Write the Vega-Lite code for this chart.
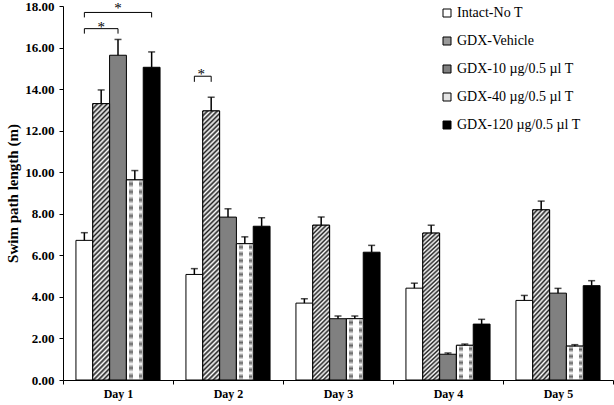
{
  "$schema": "https://vega.github.io/schema/vega-lite/v6.json",
  "width": 550,
  "height": 374,
  "autosize": "none",
  "padding": {"left": 63, "top": 6, "right": 1, "bottom": 25},
  "background": "white",
  "config": {
    "view": {"stroke": null},
    "font": "Liberation Serif",
    "legend": {
      "orient": "none",
      "legendX": 377,
      "legendY": 0,
      "padding": 0,
      "labelFont": "Liberation Serif",
      "labelFontSize": 14,
      "labelColor": "black",
      "labelOffset": 3,
      "rowPadding": 14,
      "symbolType": "square",
      "symbolSize": 64,
      "symbolStrokeColor": "black",
      "symbolStrokeWidth": 1,
      "symbolOpacity": 1
    }
  },
  "datasets": {
    "bars": [
      {"day": "Day 1", "group": "Intact-No T", "value": 6.72, "upper": 7.09},
      {"day": "Day 1", "group": "GDX-Vehicle", "value": 13.30, "upper": 13.96},
      {"day": "Day 1", "group": "GDX-10 µg/0.5 µl T", "value": 15.63, "upper": 16.39},
      {"day": "Day 1", "group": "GDX-40 µg/0.5 µl T", "value": 9.63, "upper": 10.08},
      {"day": "Day 1", "group": "GDX-120 µg/0.5 µl T", "value": 15.05, "upper": 15.79},
      {"day": "Day 2", "group": "Intact-No T", "value": 5.08, "upper": 5.36},
      {"day": "Day 2", "group": "GDX-Vehicle", "value": 12.95, "upper": 13.61},
      {"day": "Day 2", "group": "GDX-10 µg/0.5 µl T", "value": 7.84, "upper": 8.24},
      {"day": "Day 2", "group": "GDX-40 µg/0.5 µl T", "value": 6.56, "upper": 6.89},
      {"day": "Day 2", "group": "GDX-120 µg/0.5 µl T", "value": 7.40, "upper": 7.81},
      {"day": "Day 3", "group": "Intact-No T", "value": 3.70, "upper": 3.91},
      {"day": "Day 3", "group": "GDX-Vehicle", "value": 7.45, "upper": 7.85},
      {"day": "Day 3", "group": "GDX-10 µg/0.5 µl T", "value": 2.95, "upper": 3.08},
      {"day": "Day 3", "group": "GDX-40 µg/0.5 µl T", "value": 2.95, "upper": 3.08},
      {"day": "Day 3", "group": "GDX-120 µg/0.5 µl T", "value": 6.15, "upper": 6.48},
      {"day": "Day 4", "group": "Intact-No T", "value": 4.42, "upper": 4.66},
      {"day": "Day 4", "group": "GDX-Vehicle", "value": 7.07, "upper": 7.45},
      {"day": "Day 4", "group": "GDX-10 µg/0.5 µl T", "value": 1.24, "upper": 1.30},
      {"day": "Day 4", "group": "GDX-40 µg/0.5 µl T", "value": 1.67, "upper": 1.73},
      {"day": "Day 4", "group": "GDX-120 µg/0.5 µl T", "value": 2.69, "upper": 2.92},
      {"day": "Day 5", "group": "Intact-No T", "value": 3.83, "upper": 4.07},
      {"day": "Day 5", "group": "GDX-Vehicle", "value": 8.19, "upper": 8.61},
      {"day": "Day 5", "group": "GDX-10 µg/0.5 µl T", "value": 4.18, "upper": 4.41},
      {"day": "Day 5", "group": "GDX-40 µg/0.5 µl T", "value": 1.63, "upper": 1.70},
      {"day": "Day 5", "group": "GDX-120 µg/0.5 µl T", "value": 4.54, "upper": 4.78}
    ],
    "brackets": [
      {"id": "b1", "ord": 1, "day": "Day 1", "group": "Intact-No T", "value": 16.67},
      {"id": "b1", "ord": 2, "day": "Day 1", "group": "Intact-No T", "value": 16.91},
      {"id": "b1", "ord": 3, "day": "Day 1", "group": "GDX-10 µg/0.5 µl T", "value": 16.91},
      {"id": "b1", "ord": 4, "day": "Day 1", "group": "GDX-10 µg/0.5 µl T", "value": 16.67},
      {"id": "b2", "ord": 1, "day": "Day 1", "group": "Intact-No T", "value": 17.45},
      {"id": "b2", "ord": 2, "day": "Day 1", "group": "Intact-No T", "value": 17.69},
      {"id": "b2", "ord": 3, "day": "Day 1", "group": "GDX-120 µg/0.5 µl T", "value": 17.69},
      {"id": "b2", "ord": 4, "day": "Day 1", "group": "GDX-120 µg/0.5 µl T", "value": 17.45},
      {"id": "b3", "ord": 1, "day": "Day 2", "group": "Intact-No T", "value": 14.35},
      {"id": "b3", "ord": 2, "day": "Day 2", "group": "Intact-No T", "value": 14.62},
      {"id": "b3", "ord": 3, "day": "Day 2", "group": "GDX-Vehicle", "value": 14.62},
      {"id": "b3", "ord": 4, "day": "Day 2", "group": "GDX-Vehicle", "value": 14.35}
    ],
    "stars": [
      {"day": "Day 1", "group": "GDX-Vehicle", "value": 17.01, "label": "*"},
      {"day": "Day 1", "group": "GDX-10 µg/0.5 µl T", "value": 17.88, "label": "*"}
    ],
    "stars2": [
      {"day": "Day 2", "group": "Intact-No T", "value": 14.72, "label": "*"}
    ]
  },
  "encoding": {
    "x": {
      "field": "day", "type": "nominal",
      "scale": {"paddingInner": 0, "paddingOuter": 0},
      "axis": {"title": null, "labelAngle": 0, "tickBand": "extent", "tickSize": 4, "labelPadding": 4, "labelFont": "Liberation Serif", "labelFontSize": 12, "labelFontWeight": "bold", "labelColor": "black", "domainColor": "black", "tickColor": "black", "grid": false}
    },
    "xOffset": {
      "field": "group", "type": "nominal",
      "scale": {"domain": ["Intact-No T", "GDX-Vehicle", "GDX-10 µg/0.5 µl T", "GDX-40 µg/0.5 µl T", "GDX-120 µg/0.5 µl T"], "paddingInner": 0, "paddingOuter": 0.77}
    },
    "y": {
      "field": "value", "type": "quantitative",
      "scale": {"domain": [0, 18], "nice": false},
      "axis": {"title": "Swim path length (m)", "values": [0, 2, 4, 6, 8, 10, 12, 14, 16, 18], "format": ".2f", "grid": false, "tickSize": 4, "labelPadding": 5, "labelFont": "Liberation Serif", "labelFontSize": 13, "labelFontWeight": "bold", "labelColor": "black", "domainColor": "black", "tickColor": "black", "titleFont": "Liberation Serif", "titleFontSize": 15, "titleFontWeight": "bold", "titleColor": "black", "titlePadding": 4}
    }
  },
  "layer": [
    {
      "data": {"name": "bars"},
      "mark": {"type": "bar", "stroke": "black", "strokeWidth": 1},
      "encoding": {
        "color": {
          "field": "group", "type": "nominal",
          "scale": {
            "domain": ["Intact-No T", "GDX-Vehicle", "GDX-10 µg/0.5 µl T", "GDX-40 µg/0.5 µl T", "GDX-120 µg/0.5 µl T"],
            "range": ["#ffffff", "#9a9a9a", "#808080", "#e4e4e4", "#000000"]
          },
          "legend": {"title": null}
        }
      }
    },
    {
      "data": {"name": "bars"},
      "transform": [{"filter": "datum.group == 'GDX-Vehicle' && datum.value > 10"}],
      "mark": {"type": "bar", "stroke": "black", "strokeWidth": 1, "fill": {"gradient": "linear", "x1": 0, "y1": 0, "x2": 0.066, "y2": 1.07, "stops": [
        {"offset": 0, "color": "#222"}, {"offset": 0.0083, "color": "#fff"}, {"offset": 0.0167, "color": "#222"}, {"offset": 0.025, "color": "#fff"}, {"offset": 0.0333, "color": "#222"}, {"offset": 0.0417, "color": "#fff"}, {"offset": 0.05, "color": "#222"}, {"offset": 0.0583, "color": "#fff"}, {"offset": 0.0667, "color": "#222"}, {"offset": 0.075, "color": "#fff"}, {"offset": 0.0833, "color": "#222"}, {"offset": 0.0917, "color": "#fff"},
        {"offset": 0.1, "color": "#222"}, {"offset": 0.1083, "color": "#fff"}, {"offset": 0.1167, "color": "#222"}, {"offset": 0.125, "color": "#fff"}, {"offset": 0.1333, "color": "#222"}, {"offset": 0.1417, "color": "#fff"}, {"offset": 0.15, "color": "#222"}, {"offset": 0.1583, "color": "#fff"}, {"offset": 0.1667, "color": "#222"}, {"offset": 0.175, "color": "#fff"}, {"offset": 0.1833, "color": "#222"}, {"offset": 0.1917, "color": "#fff"},
        {"offset": 0.2, "color": "#222"}, {"offset": 0.2083, "color": "#fff"}, {"offset": 0.2167, "color": "#222"}, {"offset": 0.225, "color": "#fff"}, {"offset": 0.2333, "color": "#222"}, {"offset": 0.2417, "color": "#fff"}, {"offset": 0.25, "color": "#222"}, {"offset": 0.2583, "color": "#fff"}, {"offset": 0.2667, "color": "#222"}, {"offset": 0.275, "color": "#fff"}, {"offset": 0.2833, "color": "#222"}, {"offset": 0.2917, "color": "#fff"},
        {"offset": 0.3, "color": "#222"}, {"offset": 0.3083, "color": "#fff"}, {"offset": 0.3167, "color": "#222"}, {"offset": 0.325, "color": "#fff"}, {"offset": 0.3333, "color": "#222"}, {"offset": 0.3417, "color": "#fff"}, {"offset": 0.35, "color": "#222"}, {"offset": 0.3583, "color": "#fff"}, {"offset": 0.3667, "color": "#222"}, {"offset": 0.375, "color": "#fff"}, {"offset": 0.3833, "color": "#222"}, {"offset": 0.3917, "color": "#fff"},
        {"offset": 0.4, "color": "#222"}, {"offset": 0.4083, "color": "#fff"}, {"offset": 0.4167, "color": "#222"}, {"offset": 0.425, "color": "#fff"}, {"offset": 0.4333, "color": "#222"}, {"offset": 0.4417, "color": "#fff"}, {"offset": 0.45, "color": "#222"}, {"offset": 0.4583, "color": "#fff"}, {"offset": 0.4667, "color": "#222"}, {"offset": 0.475, "color": "#fff"}, {"offset": 0.4833, "color": "#222"}, {"offset": 0.4917, "color": "#fff"},
        {"offset": 0.5, "color": "#222"}, {"offset": 0.5083, "color": "#fff"}, {"offset": 0.5167, "color": "#222"}, {"offset": 0.525, "color": "#fff"}, {"offset": 0.5333, "color": "#222"}, {"offset": 0.5417, "color": "#fff"}, {"offset": 0.55, "color": "#222"}, {"offset": 0.5583, "color": "#fff"}, {"offset": 0.5667, "color": "#222"}, {"offset": 0.575, "color": "#fff"}, {"offset": 0.5833, "color": "#222"}, {"offset": 0.5917, "color": "#fff"},
        {"offset": 0.6, "color": "#222"}, {"offset": 0.6083, "color": "#fff"}, {"offset": 0.6167, "color": "#222"}, {"offset": 0.625, "color": "#fff"}, {"offset": 0.6333, "color": "#222"}, {"offset": 0.6417, "color": "#fff"}, {"offset": 0.65, "color": "#222"}, {"offset": 0.6583, "color": "#fff"}, {"offset": 0.6667, "color": "#222"}, {"offset": 0.675, "color": "#fff"}, {"offset": 0.6833, "color": "#222"}, {"offset": 0.6917, "color": "#fff"},
        {"offset": 0.7, "color": "#222"}, {"offset": 0.7083, "color": "#fff"}, {"offset": 0.7167, "color": "#222"}, {"offset": 0.725, "color": "#fff"}, {"offset": 0.7333, "color": "#222"}, {"offset": 0.7417, "color": "#fff"}, {"offset": 0.75, "color": "#222"}, {"offset": 0.7583, "color": "#fff"}, {"offset": 0.7667, "color": "#222"}, {"offset": 0.775, "color": "#fff"}, {"offset": 0.7833, "color": "#222"}, {"offset": 0.7917, "color": "#fff"},
        {"offset": 0.8, "color": "#222"}, {"offset": 0.8083, "color": "#fff"}, {"offset": 0.8167, "color": "#222"}, {"offset": 0.825, "color": "#fff"}, {"offset": 0.8333, "color": "#222"}, {"offset": 0.8417, "color": "#fff"}, {"offset": 0.85, "color": "#222"}, {"offset": 0.8583, "color": "#fff"}, {"offset": 0.8667, "color": "#222"}, {"offset": 0.875, "color": "#fff"}, {"offset": 0.8833, "color": "#222"}, {"offset": 0.8917, "color": "#fff"},
        {"offset": 0.9, "color": "#222"}, {"offset": 0.9083, "color": "#fff"}, {"offset": 0.9167, "color": "#222"}, {"offset": 0.925, "color": "#fff"}, {"offset": 0.9333, "color": "#222"}, {"offset": 0.9417, "color": "#fff"}, {"offset": 0.95, "color": "#222"}, {"offset": 0.9583, "color": "#fff"}, {"offset": 0.9667, "color": "#222"}, {"offset": 0.975, "color": "#fff"}, {"offset": 0.9833, "color": "#222"}, {"offset": 0.9917, "color": "#fff"},
        {"offset": 1, "color": "#222"}
      ]}}
    },
    {
      "data": {"name": "bars"},
      "transform": [{"filter": "datum.group == 'GDX-Vehicle' && datum.value <= 10"}],
      "mark": {"type": "bar", "stroke": "black", "strokeWidth": 1, "fill": {"gradient": "linear", "x1": 0, "y1": 0, "x2": 0.1223, "y2": 1.14, "stops": [
        {"offset": 0, "color": "#222"}, {"offset": 0.0125, "color": "#fff"}, {"offset": 0.025, "color": "#222"}, {"offset": 0.0375, "color": "#fff"}, {"offset": 0.05, "color": "#222"}, {"offset": 0.0625, "color": "#fff"}, {"offset": 0.075, "color": "#222"}, {"offset": 0.0875, "color": "#fff"},
        {"offset": 0.1, "color": "#222"}, {"offset": 0.1125, "color": "#fff"}, {"offset": 0.125, "color": "#222"}, {"offset": 0.1375, "color": "#fff"}, {"offset": 0.15, "color": "#222"}, {"offset": 0.1625, "color": "#fff"}, {"offset": 0.175, "color": "#222"}, {"offset": 0.1875, "color": "#fff"},
        {"offset": 0.2, "color": "#222"}, {"offset": 0.2125, "color": "#fff"}, {"offset": 0.225, "color": "#222"}, {"offset": 0.2375, "color": "#fff"}, {"offset": 0.25, "color": "#222"}, {"offset": 0.2625, "color": "#fff"}, {"offset": 0.275, "color": "#222"}, {"offset": 0.2875, "color": "#fff"},
        {"offset": 0.3, "color": "#222"}, {"offset": 0.3125, "color": "#fff"}, {"offset": 0.325, "color": "#222"}, {"offset": 0.3375, "color": "#fff"}, {"offset": 0.35, "color": "#222"}, {"offset": 0.3625, "color": "#fff"}, {"offset": 0.375, "color": "#222"}, {"offset": 0.3875, "color": "#fff"},
        {"offset": 0.4, "color": "#222"}, {"offset": 0.4125, "color": "#fff"}, {"offset": 0.425, "color": "#222"}, {"offset": 0.4375, "color": "#fff"}, {"offset": 0.45, "color": "#222"}, {"offset": 0.4625, "color": "#fff"}, {"offset": 0.475, "color": "#222"}, {"offset": 0.4875, "color": "#fff"},
        {"offset": 0.5, "color": "#222"}, {"offset": 0.5125, "color": "#fff"}, {"offset": 0.525, "color": "#222"}, {"offset": 0.5375, "color": "#fff"}, {"offset": 0.55, "color": "#222"}, {"offset": 0.5625, "color": "#fff"}, {"offset": 0.575, "color": "#222"}, {"offset": 0.5875, "color": "#fff"},
        {"offset": 0.6, "color": "#222"}, {"offset": 0.6125, "color": "#fff"}, {"offset": 0.625, "color": "#222"}, {"offset": 0.6375, "color": "#fff"}, {"offset": 0.65, "color": "#222"}, {"offset": 0.6625, "color": "#fff"}, {"offset": 0.675, "color": "#222"}, {"offset": 0.6875, "color": "#fff"},
        {"offset": 0.7, "color": "#222"}, {"offset": 0.7125, "color": "#fff"}, {"offset": 0.725, "color": "#222"}, {"offset": 0.7375, "color": "#fff"}, {"offset": 0.75, "color": "#222"}, {"offset": 0.7625, "color": "#fff"}, {"offset": 0.775, "color": "#222"}, {"offset": 0.7875, "color": "#fff"},
        {"offset": 0.8, "color": "#222"}, {"offset": 0.8125, "color": "#fff"}, {"offset": 0.825, "color": "#222"}, {"offset": 0.8375, "color": "#fff"}, {"offset": 0.85, "color": "#222"}, {"offset": 0.8625, "color": "#fff"}, {"offset": 0.875, "color": "#222"}, {"offset": 0.8875, "color": "#fff"},
        {"offset": 0.9, "color": "#222"}, {"offset": 0.9125, "color": "#fff"}, {"offset": 0.925, "color": "#222"}, {"offset": 0.9375, "color": "#fff"}, {"offset": 0.95, "color": "#222"}, {"offset": 0.9625, "color": "#fff"}, {"offset": 0.975, "color": "#222"}, {"offset": 0.9875, "color": "#fff"},
        {"offset": 1, "color": "#222"}
      ]}}
    },
    {
      "data": {"name": "bars"},
      "transform": [{"filter": "datum.group == 'GDX-40 µg/0.5 µl T'"}],
      "mark": {"type": "bar", "strokeWidth": 0, "fill": {"gradient": "linear", "x1": 0, "y1": 0, "x2": 1, "y2": 0, "stops": [
        {"offset": 0, "color": "#fff"}, {"offset": 0.16, "color": "#fff"}, {"offset": 0.18, "color": "#666"}, {"offset": 0.4, "color": "#666"}, {"offset": 0.42, "color": "#fff"}, {"offset": 0.74, "color": "#fff"}, {"offset": 0.76, "color": "#666"}, {"offset": 0.9, "color": "#666"}, {"offset": 0.92, "color": "#fff"}, {"offset": 1, "color": "#fff"}
      ]}}
    },
    {
      "data": {"name": "bars"},
      "transform": [{"filter": "datum.group == 'GDX-40 µg/0.5 µl T' && datum.value > 8"}],
      "mark": {"type": "bar", "stroke": "black", "strokeWidth": 1, "fill": {"gradient": "linear", "x1": 0, "y1": 0, "x2": 0, "y2": 1, "stops": [
        {"offset": 0, "color": "#ffffff"}, {"offset": 0.02, "color": "rgba(255,255,255,0)"}, {"offset": 0.04, "color": "#ffffff"}, {"offset": 0.06, "color": "rgba(255,255,255,0)"}, {"offset": 0.08, "color": "#ffffff"}, {"offset": 0.1, "color": "rgba(255,255,255,0)"}, {"offset": 0.12, "color": "#ffffff"}, {"offset": 0.14, "color": "rgba(255,255,255,0)"}, {"offset": 0.16, "color": "#ffffff"}, {"offset": 0.18, "color": "rgba(255,255,255,0)"},
        {"offset": 0.2, "color": "#ffffff"}, {"offset": 0.22, "color": "rgba(255,255,255,0)"}, {"offset": 0.24, "color": "#ffffff"}, {"offset": 0.26, "color": "rgba(255,255,255,0)"}, {"offset": 0.28, "color": "#ffffff"}, {"offset": 0.3, "color": "rgba(255,255,255,0)"}, {"offset": 0.32, "color": "#ffffff"}, {"offset": 0.34, "color": "rgba(255,255,255,0)"}, {"offset": 0.36, "color": "#ffffff"}, {"offset": 0.38, "color": "rgba(255,255,255,0)"},
        {"offset": 0.4, "color": "#ffffff"}, {"offset": 0.42, "color": "rgba(255,255,255,0)"}, {"offset": 0.44, "color": "#ffffff"}, {"offset": 0.46, "color": "rgba(255,255,255,0)"}, {"offset": 0.48, "color": "#ffffff"}, {"offset": 0.5, "color": "rgba(255,255,255,0)"}, {"offset": 0.52, "color": "#ffffff"}, {"offset": 0.54, "color": "rgba(255,255,255,0)"}, {"offset": 0.56, "color": "#ffffff"}, {"offset": 0.58, "color": "rgba(255,255,255,0)"},
        {"offset": 0.6, "color": "#ffffff"}, {"offset": 0.62, "color": "rgba(255,255,255,0)"}, {"offset": 0.64, "color": "#ffffff"}, {"offset": 0.66, "color": "rgba(255,255,255,0)"}, {"offset": 0.68, "color": "#ffffff"}, {"offset": 0.7, "color": "rgba(255,255,255,0)"}, {"offset": 0.72, "color": "#ffffff"}, {"offset": 0.74, "color": "rgba(255,255,255,0)"}, {"offset": 0.76, "color": "#ffffff"}, {"offset": 0.78, "color": "rgba(255,255,255,0)"},
        {"offset": 0.8, "color": "#ffffff"}, {"offset": 0.82, "color": "rgba(255,255,255,0)"}, {"offset": 0.84, "color": "#ffffff"}, {"offset": 0.86, "color": "rgba(255,255,255,0)"}, {"offset": 0.88, "color": "#ffffff"}, {"offset": 0.9, "color": "rgba(255,255,255,0)"}, {"offset": 0.92, "color": "#ffffff"}, {"offset": 0.94, "color": "rgba(255,255,255,0)"}, {"offset": 0.96, "color": "#ffffff"}, {"offset": 0.98, "color": "rgba(255,255,255,0)"},
        {"offset": 1, "color": "#ffffff"}
      ]}}
    },
    {
      "data": {"name": "bars"},
      "transform": [{"filter": "datum.group == 'GDX-40 µg/0.5 µl T' && datum.value > 5 && datum.value <= 8"}],
      "mark": {"type": "bar", "stroke": "black", "strokeWidth": 1, "fill": {"gradient": "linear", "x1": 0, "y1": 0, "x2": 0, "y2": 1, "stops": [
        {"offset": 0, "color": "#ffffff"}, {"offset": 0.025, "color": "rgba(255,255,255,0)"}, {"offset": 0.05, "color": "#ffffff"}, {"offset": 0.075, "color": "rgba(255,255,255,0)"}, {"offset": 0.1, "color": "#ffffff"}, {"offset": 0.125, "color": "rgba(255,255,255,0)"}, {"offset": 0.15, "color": "#ffffff"}, {"offset": 0.175, "color": "rgba(255,255,255,0)"},
        {"offset": 0.2, "color": "#ffffff"}, {"offset": 0.225, "color": "rgba(255,255,255,0)"}, {"offset": 0.25, "color": "#ffffff"}, {"offset": 0.275, "color": "rgba(255,255,255,0)"}, {"offset": 0.3, "color": "#ffffff"}, {"offset": 0.325, "color": "rgba(255,255,255,0)"}, {"offset": 0.35, "color": "#ffffff"}, {"offset": 0.375, "color": "rgba(255,255,255,0)"},
        {"offset": 0.4, "color": "#ffffff"}, {"offset": 0.425, "color": "rgba(255,255,255,0)"}, {"offset": 0.45, "color": "#ffffff"}, {"offset": 0.475, "color": "rgba(255,255,255,0)"}, {"offset": 0.5, "color": "#ffffff"}, {"offset": 0.525, "color": "rgba(255,255,255,0)"}, {"offset": 0.55, "color": "#ffffff"}, {"offset": 0.575, "color": "rgba(255,255,255,0)"},
        {"offset": 0.6, "color": "#ffffff"}, {"offset": 0.625, "color": "rgba(255,255,255,0)"}, {"offset": 0.65, "color": "#ffffff"}, {"offset": 0.675, "color": "rgba(255,255,255,0)"}, {"offset": 0.7, "color": "#ffffff"}, {"offset": 0.725, "color": "rgba(255,255,255,0)"}, {"offset": 0.75, "color": "#ffffff"}, {"offset": 0.775, "color": "rgba(255,255,255,0)"},
        {"offset": 0.8, "color": "#ffffff"}, {"offset": 0.825, "color": "rgba(255,255,255,0)"}, {"offset": 0.85, "color": "#ffffff"}, {"offset": 0.875, "color": "rgba(255,255,255,0)"}, {"offset": 0.9, "color": "#ffffff"}, {"offset": 0.925, "color": "rgba(255,255,255,0)"}, {"offset": 0.95, "color": "#ffffff"}, {"offset": 0.975, "color": "rgba(255,255,255,0)"},
        {"offset": 1, "color": "#ffffff"}
      ]}}
    },
    {
      "data": {"name": "bars"},
      "transform": [{"filter": "datum.group == 'GDX-40 µg/0.5 µl T' && datum.value > 2.5 && datum.value <= 5"}],
      "mark": {"type": "bar", "stroke": "black", "strokeWidth": 1, "fill": {"gradient": "linear", "x1": 0, "y1": 0, "x2": 0, "y2": 1, "stops": [
        {"offset": 0, "color": "#ffffff"}, {"offset": 0.0625, "color": "rgba(255,255,255,0)"}, {"offset": 0.125, "color": "#ffffff"}, {"offset": 0.1875, "color": "rgba(255,255,255,0)"}, {"offset": 0.25, "color": "#ffffff"}, {"offset": 0.3125, "color": "rgba(255,255,255,0)"}, {"offset": 0.375, "color": "#ffffff"}, {"offset": 0.4375, "color": "rgba(255,255,255,0)"}, {"offset": 0.5, "color": "#ffffff"}, {"offset": 0.5625, "color": "rgba(255,255,255,0)"}, {"offset": 0.625, "color": "#ffffff"}, {"offset": 0.6875, "color": "rgba(255,255,255,0)"}, {"offset": 0.75, "color": "#ffffff"}, {"offset": 0.8125, "color": "rgba(255,255,255,0)"}, {"offset": 0.875, "color": "#ffffff"}, {"offset": 0.9375, "color": "rgba(255,255,255,0)"}, {"offset": 1, "color": "#ffffff"}
      ]}}
    },
    {
      "data": {"name": "bars"},
      "transform": [{"filter": "datum.group == 'GDX-40 µg/0.5 µl T' && datum.value <= 2.5"}],
      "mark": {"type": "bar", "stroke": "black", "strokeWidth": 1, "fill": {"gradient": "linear", "x1": 0, "y1": 0, "x2": 0, "y2": 1, "stops": [
        {"offset": 0, "color": "#ffffff"}, {"offset": 0.1, "color": "rgba(255,255,255,0)"}, {"offset": 0.2, "color": "#ffffff"}, {"offset": 0.3, "color": "rgba(255,255,255,0)"}, {"offset": 0.4, "color": "#ffffff"}, {"offset": 0.5, "color": "rgba(255,255,255,0)"}, {"offset": 0.6, "color": "#ffffff"}, {"offset": 0.7, "color": "rgba(255,255,255,0)"}, {"offset": 0.8, "color": "#ffffff"}, {"offset": 0.9, "color": "rgba(255,255,255,0)"}, {"offset": 1, "color": "#ffffff"}
      ]}}
    },
    {
      "data": {"name": "bars"},
      "mark": {"type": "rule", "color": "black", "strokeWidth": 1.5},
      "encoding": {"y2": {"field": "upper"}}
    },
    {
      "data": {"name": "bars"},
      "mark": {"type": "tick", "color": "black", "size": 7, "thickness": 1.5},
      "encoding": {"y": {"field": "upper", "type": "quantitative"}}
    },
    {
      "data": {"name": "brackets"},
      "mark": {"type": "line", "color": "black", "strokeWidth": 1},
      "encoding": {"detail": {"field": "id"}, "order": {"field": "ord"}}
    },
    {
      "data": {"name": "stars"},
      "mark": {"type": "text", "font": "Liberation Serif", "fontSize": 15, "baseline": "middle", "align": "center", "fill": "black"},
      "encoding": {"text": {"field": "label"}}
    },
    {
      "data": {"name": "stars2"},
      "mark": {"type": "text", "font": "Liberation Serif", "fontSize": 15, "baseline": "middle", "align": "center", "fill": "black", "dx": 7},
      "encoding": {"text": {"field": "label"}}
    }
  ]
}
